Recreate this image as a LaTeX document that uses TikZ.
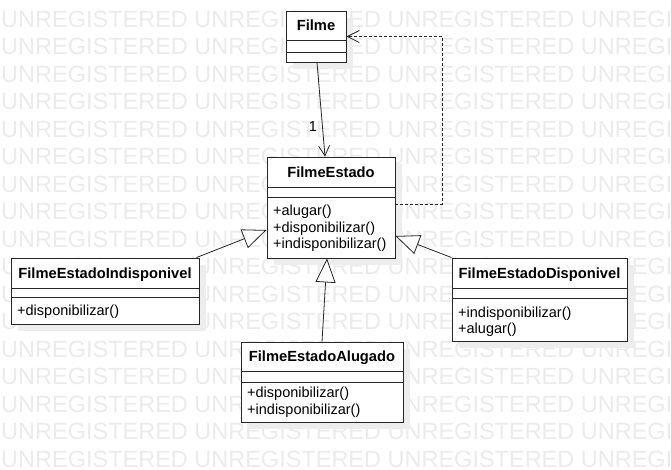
\documentclass[tikz,border=0pt]{standalone}
\usepackage{fontspec}
\setmainfont{Liberation Sans}
\usetikzlibrary{arrows.meta,shadows}

\tikzset{
  classe/.style={draw=black!85, fill=white, line width=0.9pt, inner sep=0pt,
    general shadow={fill=black!7, shadow xshift=7pt, shadow yshift=-7pt}},
  nome/.style={font=\fontsize{14.7}{16}\selectfont\bfseries, anchor=base, inner sep=0pt},
  metodo/.style={font=\fontsize{14.5}{16}\selectfont, anchor=base west, inner sep=0pt},
  divisor/.style={draw=black!85, line width=0.9pt},
  heranca/.style={draw=black!85, line width=0.8pt, -{Triangle[open, length=24pt, width=20pt, fill=white]}},
  assoc/.style={draw=black!85, line width=0.8pt, -{Straight Barb[length=10pt, width=11pt]}},
  depende/.style={draw=black!85, line width=0.8pt, dash pattern=on 3pt off 2pt, -{Straight Barb[length=12pt, width=12pt]}},
  marca/.style={text=black!8, font=\fontsize{23.5}{24}\selectfont, anchor=base west, inner sep=0pt}
}

\begin{document}
\begin{tikzpicture}[x=1pt, y=-1pt]
\useasboundingbox (0,0) rectangle (671,469);
% MARCA D'AGUA
\begin{scope}
  \clip (0,0) rectangle (671,469);
  \foreach \i in {0,...,17}
    \node[marca] at (1,{27+27.5*\i}) {UNREGISTERED UNREGISTERED UNREGISTERED UNREGISTERED};
\end{scope}
% FILME
\node[classe, minimum width=60pt, minimum height=51pt] (filme) at (316,36.5) {};
\node[nome] at (316,30) {Filme};
\draw[divisor] (286,40) -- (346,40) (286,52) -- (346,52);
% FILME ESTADO
\node[classe, minimum width=128pt, minimum height=101pt] (estado) at (331,207.5) {};
\node[nome] at (331,177) {FilmeEstado};
\draw[divisor] (267,187) -- (395,187) (267,197) -- (395,197);
\node[metodo] at (273,215.5) {+alugar()};
\node[metodo] at (273,232.5) {+disponibilizar()};
\node[metodo] at (273,248.5) {+indisponibilizar()};
% INDISPONIVEL
\node[classe, minimum width=188pt, minimum height=66pt] (indisp) at (105,291) {};
\node[nome] at (105,278) {FilmeEstadoIndisponivel};
\draw[divisor] (11,288) -- (199,288) (11,297) -- (199,297);
\node[metodo] at (17,315.5) {+disponibilizar()};
% DISPONIVEL
\node[classe, minimum width=175pt, minimum height=83pt] (disp) at (539.5,299.5) {};
\node[nome] at (539.5,278) {FilmeEstadoDisponivel};
\draw[divisor] (452,288) -- (627,288) (452,298) -- (627,298);
\node[metodo] at (458,317.5) {+indisponibilizar()};
\node[metodo] at (458,333.5) {+alugar()};
% ALUGADO
\node[classe, minimum width=162pt, minimum height=80pt] (alugado) at (322,382) {};
\node[nome] at (322,361) {FilmeEstadoAlugado};
\draw[divisor] (241,371) -- (403,371) (241,382) -- (403,382);
\node[metodo] at (247,397.5) {+disponibilizar()};
\node[metodo] at (247,414.5) {+indisponibilizar()};
% LIGACOES
\draw[assoc] ([xshift=1pt]filme.south) -- ([xshift=-6pt]estado.north)
  node[pos=0.68, left=5pt, font=\fontsize{14.5}{16}\selectfont, inner sep=0pt] (mult) {1};
\draw[depende] ([yshift=3.5pt]estado.east) -- ++(47,0) |- (filme.east);
\draw[heranca] ([xshift=-3pt]indisp.north east) -- ([yshift=-22.5pt]estado.west);
\draw[heranca] (disp.north west) -- ([yshift=-28.5pt]estado.east);
\draw[heranca] (alugado.north) -- ([xshift=-4pt]estado.south);
\end{tikzpicture}
\end{document}
